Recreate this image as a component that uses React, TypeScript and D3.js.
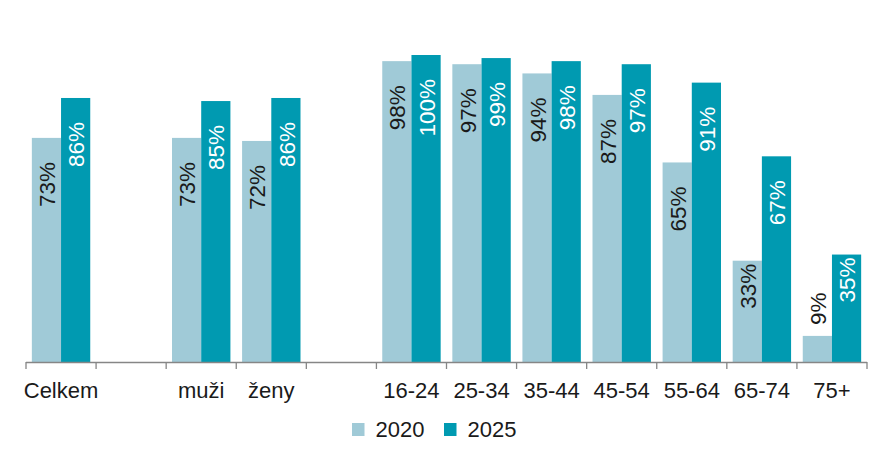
import { useEffect, useRef } from 'react';
import * as d3 from 'd3';

// categories (empty strings are spacer slots in the original chart)
const categories = ['Celkem', '', 'muži', 'ženy', '', '16-24', '25-34', '35-44', '45-54', '55-64', '65-74', '75+'];
const series = ['2020', '2025'];
const values2020 = [73, null, 73, 72, null, 98, 97, 94, 87, 65, 33, 8.5];
const values2025 = [86, null, 85, 86, null, 100, 99, 98, 97, 91, 67, 35];
const labels2020 = ['73%', '', '73%', '72%', '', '98%', '97%', '94%', '87%', '65%', '33%', '9%'];
const labels2025 = ['86%', '', '85%', '86%', '', '100%', '99%', '98%', '97%', '91%', '67%', '35%'];

const colors: Record<string, string> = {
  '2020': '#A0CAD7',
  '2025': '#009AB1',
};
const labelColors: Record<string, string> = {
  '2020': '#1a1a1a',
  '2025': '#ffffff',
};

const App = () => {
  const ref = useRef<SVGSVGElement>(null);

  useEffect(() => {
    if (!ref.current) return;
    const svg = d3.select(ref.current);
    svg.selectAll('*').remove();

    const width = 880;
    const height = 457;
    const left = 26;
    const right = 867;
    const baseY = 362;
    const font = '"Liberation Sans", Arial, sans-serif';

    const x = d3.scaleBand<number>()
      .domain(d3.range(categories.length))
      .range([left, right])
      .paddingInner(0)
      .paddingOuter(0);
    const inner = d3.scaleBand<string>()
      .domain(series)
      .range([0, x.bandwidth()])
      .paddingOuter(0.2)
      .paddingInner(0);
    const y = d3.scaleLinear().domain([0, 100]).range([baseY, baseY - 307]);

    svg.attr('width', width).attr('height', height);

    const rows = categories.map((c, i) => ({
      i,
      items: [
        { s: '2020', v: values2020[i], label: labels2020[i] },
        { s: '2025', v: values2025[i], label: labels2025[i] },
      ],
    }));

    const groups = svg.selectAll('g.cat')
      .data(rows)
      .enter()
      .append('g')
      .attr('class', 'cat')
      .attr('transform', d => `translate(${x(d.i)},0)`);

    const bars = groups.selectAll('g.bar')
      .data(d => d.items.filter(it => it.v !== null))
      .enter()
      .append('g')
      .attr('class', 'bar');

    bars.append('rect')
      .attr('x', d => inner(d.s)!)
      .attr('width', inner.bandwidth())
      .attr('y', d => y(d.v as number))
      .attr('height', d => baseY - y(d.v as number))
      .attr('fill', d => colors[d.s]);

    // value labels, rotated, near the bar top
    bars.append('text')
      .text(d => d.label)
      .attr('transform', d => {
        const cx = inner(d.s)! + inner.bandwidth() / 2;
        const top = y(d.v as number);
        const v = d.v as number;
        const ty = v >= 50 ? top + 24 : v >= 20 ? top + 3 : top - 11;
        return `translate(${cx},${ty}) rotate(-90)`;
      })
      .attr('text-anchor', d => ((d.v as number) >= 20 ? 'end' : 'start'))
      .attr('dominant-baseline', 'central')
      .attr('dy', '0.05em')
      .style('font-family', font)
      .style('font-size', '22.5px')
      .style('fill', d => labelColors[d.s]);

    // axis line and ticks
    const axis = svg.append('g');
    axis.append('line')
      .attr('x1', left).attr('x2', right)
      .attr('y1', baseY + 0.5).attr('y2', baseY + 0.5)
      .attr('stroke', '#868686').attr('stroke-width', 1.3);
    const tickPos = d3.range(categories.length + 1).map(i => (i < categories.length ? x(i)! : right));
    axis.selectAll('line.tick')
      .data(tickPos)
      .enter()
      .append('line')
      .attr('class', 'tick')
      .attr('x1', d => d).attr('x2', d => d)
      .attr('y1', baseY).attr('y2', baseY + 7)
      .attr('stroke', '#868686').attr('stroke-width', 1.3);

    axis.selectAll('text.cat')
      .data(categories)
      .enter()
      .append('text')
      .attr('class', 'cat')
      .attr('x', (d, i) => x(i)! + x.bandwidth() / 2)
      .attr('y', 398)
      .attr('text-anchor', 'middle')
      .style('font-family', font)
      .style('font-size', '22px')
      .style('fill', '#1a1a1a')
      .text(d => d);

    // legend
    const legendX = [352, 444];
    const legend = svg.selectAll('g.legend')
      .data(series)
      .enter()
      .append('g')
      .attr('class', 'legend')
      .attr('transform', (d, i) => `translate(${legendX[i]},423)`);
    legend.append('rect')
      .attr('width', 12.5)
      .attr('height', 13)
      .attr('fill', d => colors[d]);
    legend.append('text')
      .attr('x', 23.5)
      .attr('y', 14)
      .style('font-family', font)
      .style('font-size', '22px')
      .style('fill', '#1a1a1a')
      .text(d => d);
  }, []);

  return (
    <svg ref={ref} style={{ position: 'absolute', left: 0, top: 0, background: '#fff' }} />
  );
};

export default App;
